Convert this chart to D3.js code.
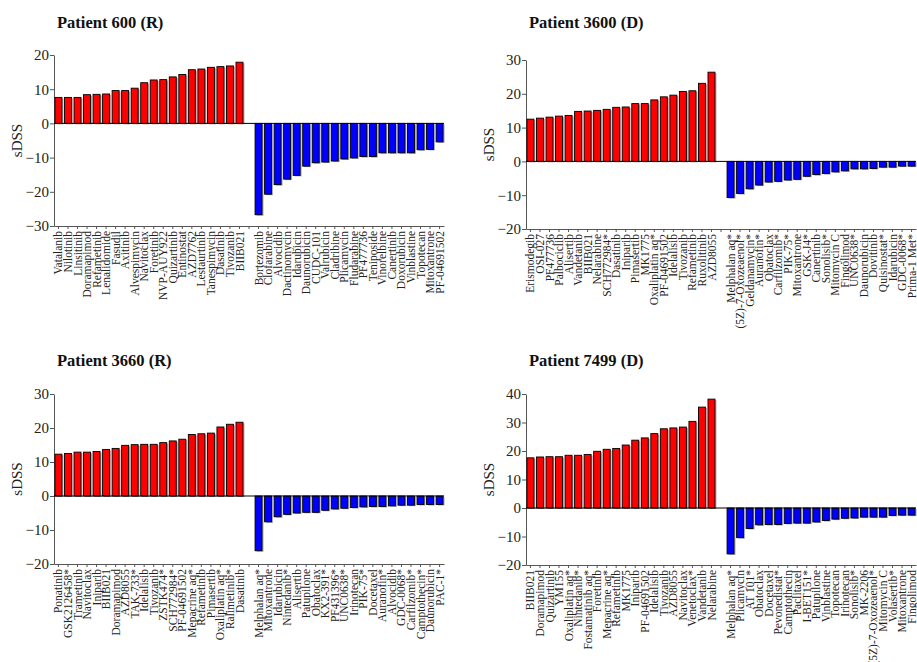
<!DOCTYPE html>
<html>
<head>
<meta charset="utf-8">
<script src="https://cdn.jsdelivr.net/npm/d3@7"></script>
<style>
  body { margin: 0; background: #fff; }
  svg, svg text { font-family: "Liberation Serif", "Times New Roman", serif; }
  .title { font-weight: bold; font-size: 16.5px; }
  .ytick text { font-size: 15px; font-family: "Liberation Serif", serif; }
  .xtick text { font-size: 11.5px; font-family: "Liberation Serif", serif; }
</style>
</head>
<body>
<svg width="917" height="662"></svg>
<script>
// Patient 600 (R)
var up600Names = ["Vatalanib","Nilotinib","Linsitinib","Doramapimod","Refametinib","Lenalidomide","Fasudil","Axitinib","Alvespimycin","Navitoclax","Foretinib","NVP-AUY922","Quizartinib","Entinostat","AZD7762","Lestaurtinib","Tanespimycin","Dasatinib","Tivozanib","BIIB021"];
var up600Vals = [7.6,7.6,7.6,8.4,8.5,8.6,9.6,9.6,10.3,11.9,12.7,12.8,13.6,14.3,15.7,15.9,16.4,16.6,16.8,17.9];
var dn600Names = ["Bortezomib","Clofarabine","Alvocidib","Dactinomycin","Idarubicin","Daunorubicin","CUDC-101","Valrubicin","Cladribine","Plicamycin","Fludarabine","PF477736","Teniposide","Vinorelbine","Canertinib","Doxorubicin","Vinblastine","Topotecan","Mitoxantrone","PF-04691502"];
var dn600Vals = [-26.7,-20.7,-17.9,-16.3,-15.2,-12.5,-11.5,-11.3,-11.0,-10.4,-10.1,-9.7,-9.7,-8.6,-8.6,-8.6,-8.6,-7.7,-7.6,-5.4];

// Patient 3600 (D)
var up3600Names = ["Erismodegib","OSI-027","PF477736","Palbociclib","Alisertib","Vandetanib","BIIB021","Nelarabine","SCH772984*","Dasatinib","Iniparib","Pimasertib","MK1775","Oxaliplatin aq*","PF-04691502","Idelalisib","Tivozanib","Refametinib","Ruxolitinib","AZD8055"];
var up3600Vals = [12.5,12.8,13.1,13.4,13.6,14.8,14.9,15.1,15.4,16.0,16.1,17.1,17.1,18.2,19.1,19.6,20.7,20.9,23.1,26.4];
var dn3600Names = ["Melphalan aq*","(5Z)-7-Oxozeaenol*","Geldanamycin*","Auranofin*","Obatoclax","Carfilzomib*","PIK-75*","Mitoxantrone","GSK-J4*","Canertinib","Sonolisib*","Mitomycin C","Fingolimod","UNC0638*","Daunorubicin","Dovitinib","Quisinostat*","Idarubicin","GDC-0068*","Prima-1 Met*"];
var dn3600Vals = [-10.7,-9.5,-8.1,-7.0,-6.1,-5.9,-5.5,-5.3,-4.4,-3.9,-3.6,-3.1,-2.8,-2.2,-2.2,-2.1,-1.7,-1.7,-1.4,-1.4];

// Patient 3660 (R)
var up3660Names = ["Ponatinib","GSK2126458*","Trametinib","Navitoclax","Iniparib","BIIB021","Doramapimod","AZD8055","TAK-733*","Idelalisib","Tivozanib","ZSTK474*","SCH772984*","PF-04691502","Mepacrine aq*","Refametinib","Pimasertib","Oxaliplatin aq*","Ralimetinib*","Dasatinib"];
var up3660Vals = [12.3,12.5,12.9,12.9,13.1,13.7,14.0,14.9,15.1,15.2,15.2,15.7,16.2,16.7,18.1,18.3,18.5,20.3,21.1,21.7];
var dn3660Names = ["Melphalan aq*","Mitoxantrone","Idarubicin","Nintedanib*","Alisertib","Patupilone","Obatoclax","KX2-391*","PF431396*","UNC0638*","Irinotecan","PIK-75*","Docetaxel","Auranofin*","Alvocidib","GDC-0068*","Carfilzomib*","Camptothecin*","Daunorubicin","PAC-1*"];
var dn3660Vals = [-16.1,-7.6,-6.1,-5.4,-5.0,-4.8,-4.8,-4.2,-3.8,-3.6,-3.4,-3.2,-3.1,-3.1,-2.9,-2.7,-2.7,-2.5,-2.5,-2.5];

// Patient 7499 (D)
var up7499Names = ["BIIB021","Doramapimod","Quizartinib","YM155","Oxaliplatin aq*","Nintedanib*","Fostamatinib aq*","Foretinib","Mepacrine aq*","Refametinib","MK1775","Iniparib","PF-04691502","Idelalisib","Tivozanib","AZD8055","Navitoclax","Venetoclax*","Vandetanib","Nelarabine"];
var up7499Vals = [17.6,17.9,18.0,18.0,18.5,18.5,18.8,19.9,20.6,20.9,22.1,23.8,24.6,26.1,27.8,28.1,28.4,30.4,35.4,38.2];
var dn7499Names = ["Melphalan aq*","Plicamycin","AT 101*","Obatoclax","Docetaxel","Pevonedistat*","Camptothecin","Paclitaxel","I-BET151*","Patupilone","Vinblastine","Topotecan","Irinotecan","Sonolisib*","MK-2206","(5Z)-7-Oxozeaenol*","Mitomycin C","Volasertib*","Mitoxantrone","Fingolimod"];
var dn7499Vals = [-16.1,-10.4,-7.2,-5.9,-5.8,-5.8,-5.4,-5.3,-5.3,-4.9,-4.4,-3.9,-3.6,-3.5,-3.2,-3.2,-3.2,-2.6,-2.5,-2.5];

var titles = ["Patient 600 (R)", "Patient 3600 (D)", "Patient 3660 (R)", "Patient 7499 (D)"];
var yDomains = [[-30, 20], [-20, 30], [-20, 30], [-20, 40]];
var yTicks = [[-30,-20,-10,0,10,20], [-20,-10,0,10,20,30], [-20,-10,0,10,20,30], [-20,-10,0,10,20,30,40]];

var svg = d3.select("svg");

var panels = [
  {up: [up600Names, up600Vals], dn: [dn600Names, dn600Vals], x0: 54, top: 55, bottom: 226, titleY: 28},
  {up: [up3600Names, up3600Vals], dn: [dn3600Names, dn3600Vals], x0: 526, top: 60, bottom: 229, titleY: 28},
  {up: [up3660Names, up3660Vals], dn: [dn3660Names, dn3660Vals], x0: 54, top: 394, bottom: 564, titleY: 366},
  {up: [up7499Names, up7499Vals], dn: [dn7499Names, dn7499Vals], x0: 526, top: 394, bottom: 565, titleY: 366}
];

panels.forEach((p, i) => {
  // red first, then an empty slot, then blue
  var names = p.up[0].concat([""], p.dn[0]);
  var vals = p.up[1].concat([null], p.dn[1]);
  var data = names.map((n, k) => ({k: k, name: n, v: vals[k]}));

  var x = d3.scaleBand()
            .domain(d3.range(names.length))
            .range([p.x0, p.x0 + 390])
            .paddingInner(0.27)
            .paddingOuter(0.1);

  var y = d3.scaleLinear()
            .domain(yDomains[i])
            .range([p.bottom, p.top]);

  var g = svg.append("g");

  g.append("text")
   .attr("class", "title")
   .attr("x", p.x0 + 3)
   .attr("y", p.titleY)
   .attr("fill", "#111")
   .text(titles[i]);

  g.append("text")
   .attr("transform", `translate(${p.x0 - 32},${(p.top + p.bottom) / 2}) rotate(-90)`)
   .attr("text-anchor", "middle")
   .attr("fill", "#222")
   .style("font-size", "15px")
   .text("sDSS");

  var yAxis = g.append("g")
               .attr("class", "ytick")
               .attr("transform", `translate(${p.x0},0)`)
               .call(d3.axisLeft(y).tickValues(yTicks[i]).tickSize(4).tickPadding(1).tickSizeOuter(0));
  yAxis.attr("font-family", null);
  yAxis.select(".domain").attr("stroke", "#555");
  yAxis.selectAll(".tick line").attr("stroke", "#555");
  yAxis.selectAll("text").attr("fill", "#222");

  var bars = data.filter(d => d.v !== null);

  // grey drop shadow
  g.append("g").selectAll("rect")
   .data(bars)
   .enter().append("rect")
   .attr("x", d => x(d.k) + 1.5)
   .attr("y", d => Math.min(y(d.v), y(0)) + 1)
   .attr("width", x.bandwidth())
   .attr("height", d => Math.abs(y(d.v) - y(0)))
   .attr("fill", "#aaa");

  g.append("g").selectAll("rect")
   .data(bars)
   .enter().append("rect")
   .attr("x", d => x(d.k))
   .attr("y", d => Math.min(y(d.v), y(0)))
   .attr("width", x.bandwidth())
   .attr("height", d => Math.abs(y(d.v) - y(0)))
   .attr("fill", d => d.v > 0 ? "#ff0000" : "#0000ff")
   .attr("stroke", "#000")
   .attr("stroke-width", 0.9);

  // zero line
  g.append("line")
   .attr("x1", p.x0).attr("x2", p.x0 + 390)
   .attr("y1", y(0)).attr("y2", y(0))
   .attr("stroke", "#000")
   .attr("stroke-width", 1);

  var xAxis = g.append("g")
               .attr("class", "xtick")
               .attr("transform", `translate(0,${p.bottom})`)
               .call(d3.axisBottom(x).tickFormat(k => names[k]).tickSize(3).tickSizeOuter(0));
  xAxis.attr("font-family", null);
  xAxis.select(".domain").attr("stroke", "#555");
  xAxis.selectAll(".tick line").attr("stroke", "#555");
  xAxis.selectAll("text")
       .attr("transform", "rotate(-90)")
       .attr("text-anchor", "end")
       .attr("x", -5)
       .attr("y", 0)
       .attr("dy", "0.35em")
       .attr("fill", "#222");
});
</script>
</body>
</html>
